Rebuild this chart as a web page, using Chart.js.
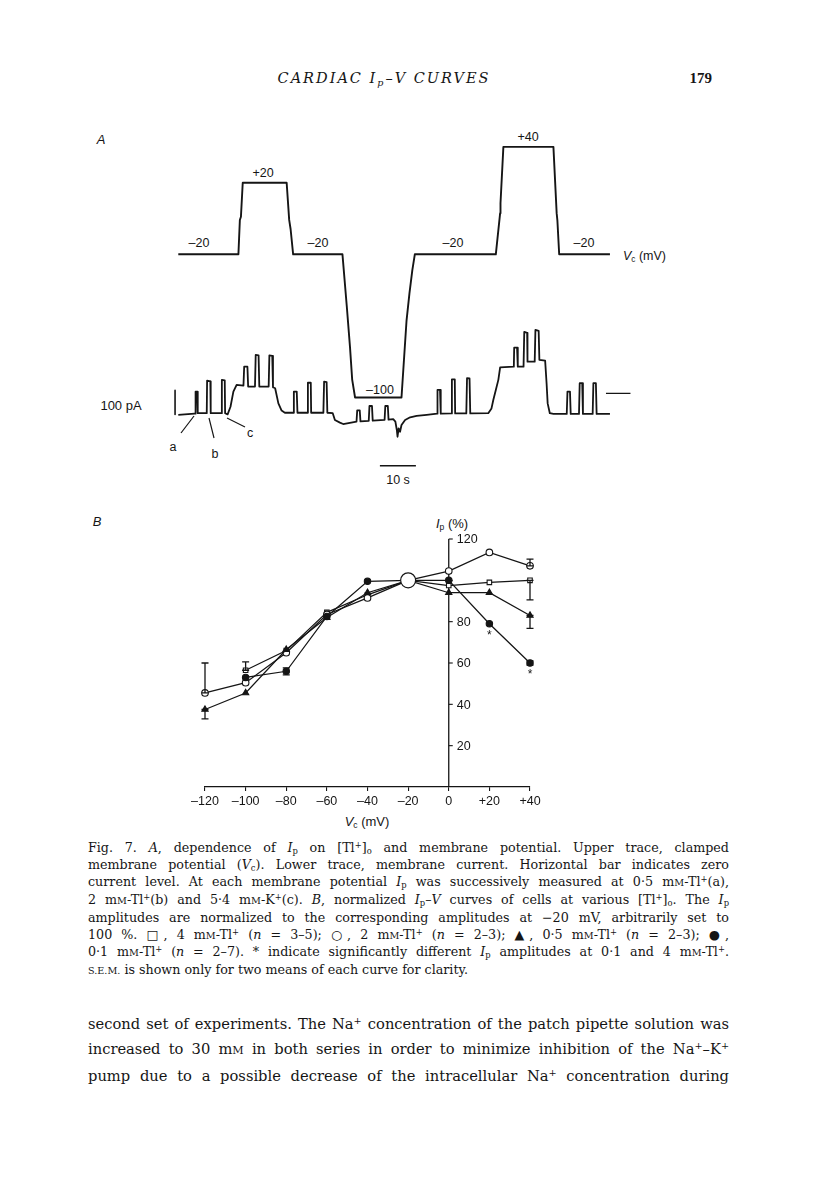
<!DOCTYPE html>
<html><head><meta charset="utf-8">
<script src="https://cdn.jsdelivr.net/npm/chart.js@4.4.1/dist/chart.umd.min.js"></script>
<style>
html,body{margin:0;padding:0;background:#fff;}
body{width:816px;height:1183px;position:relative;overflow:hidden;font-family:"DejaVu Serif","Liberation Serif",serif;color:#151515;}
.abs{position:absolute;white-space:nowrap;line-height:1;}
.sans{font-family:"Liberation Sans",Arial,Helvetica,sans-serif;}
.c{transform:translate(-50%,-50%);}
canvas{position:absolute;}
.sup{font-size:0.66em;vertical-align:0.5em;line-height:0;}
.sub{font-size:0.66em;vertical-align:-0.28em;line-height:0;}
.sc{font-size:0.76em;}
.cap{position:absolute;left:88px;width:641px;font-size:12.7px;line-height:16.9px;}
.cap div,.body div{text-align:justify;text-align-last:justify;white-space:nowrap;}
.cap div.last{text-align-last:left;}
.body{position:absolute;left:88px;width:641px;font-size:14.7px;line-height:25.2px;}
</style>
</head><body>

<!-- header -->
<div class="abs" style="left:384px;top:71px;transform:translateX(-50%);font-size:14.5px;font-style:italic;letter-spacing:2px;">CARDIAC I<span class="sub">p</span>–V CURVES</div>
<div class="abs" style="right:104px;top:71px;font-size:15px;font-weight:bold;font-family:'Liberation Serif',serif;">179</div>

<!-- panel A labels -->
<div class="abs sans c" style="left:101px;top:139px;font-size:13px;font-style:italic;">A</div>
<div class="abs sans c" style="left:199px;top:243px;font-size:12.5px;">–20</div>
<div class="abs sans c" style="left:263px;top:173px;font-size:12.5px;">+20</div>
<div class="abs sans c" style="left:318px;top:243px;font-size:12.5px;">–20</div>
<div class="abs sans c" style="left:380px;top:390px;font-size:12.5px;">–100</div>
<div class="abs sans c" style="left:453px;top:243px;font-size:12.5px;">–20</div>
<div class="abs sans c" style="left:528px;top:137px;font-size:12.5px;">+40</div>
<div class="abs sans c" style="left:584px;top:243px;font-size:12.5px;">–20</div>
<div class="abs sans" style="left:623px;top:250px;font-size:12.5px;"><i>V</i><span class="sub">c</span> (mV)</div>
<div class="abs sans c" style="left:121px;top:405px;font-size:13px;">100 pA</div>
<div class="abs sans c" style="left:173px;top:447px;font-size:12.5px;">a</div>
<div class="abs sans c" style="left:215px;top:454px;font-size:12.5px;">b</div>
<div class="abs sans c" style="left:250px;top:433px;font-size:12.5px;">c</div>
<div class="abs sans c" style="left:398px;top:480px;font-size:12.5px;">10 s</div>
<svg style="position:absolute;left:0;top:0;" width="816" height="600">
  <g stroke="#151515" stroke-width="1.2" fill="none">
    <line x1="194" y1="416" x2="181" y2="433"/>
    <line x1="209" y1="418" x2="214" y2="438"/>
    <line x1="227" y1="418" x2="245" y2="427"/>
  </g>
</svg>

<!-- panel B labels -->
<div class="abs sans c" style="left:97px;top:521px;font-size:13px;font-style:italic;">B</div>
<div class="abs sans c" style="left:452px;top:523px;font-size:13px;"><i>I</i><span class="sub">p</span> (%)</div>
<div class="abs sans c" style="left:367px;top:821px;font-size:13px;"><i>V</i><span class="sub">c</span> (mV)</div>

<canvas id="chartA" width="510" height="360" style="left:150px;top:120px;"></canvas>
<canvas id="chartB" width="405" height="330" style="left:165px;top:505px;"></canvas>

<!-- caption -->
<div class="cap" style="top:840px;">
<div>Fig. 7. <i>A</i>, dependence of <i>I</i><span class="sub">p</span> on [Tl<span class="sup">+</span>]<span class="sub">o</span> and membrane potential. Upper trace, clamped</div>
<div>membrane potential (<i>V</i><span class="sub">c</span>). Lower trace, membrane current. Horizontal bar indicates zero</div>
<div>current level. At each membrane potential <i>I</i><span class="sub">p</span> was successively measured at 0·5 m<span class="sc">M</span>-Tl<span class="sup">+</span>(a),</div>
<div>2 m<span class="sc">M</span>-Tl<span class="sup">+</span>(b) and 5·4 m<span class="sc">M</span>-K<span class="sup">+</span>(c). <i>B</i>, normalized <i>I</i><span class="sub">p</span>–<i>V</i> curves of cells at various [Tl<span class="sup">+</span>]<span class="sub">o</span>. The <i>I</i><span class="sub">p</span></div>
<div>amplitudes are normalized to the corresponding amplitudes at −20 mV, arbitrarily set to</div>
<div>100 %. □, 4 m<span class="sc">M</span>-Tl<span class="sup">+</span> (<i>n</i> = 3–5); ○, 2 m<span class="sc">M</span>-Tl<span class="sup">+</span> (<i>n</i> = 2–3); ▲, 0·5 m<span class="sc">M</span>-Tl<span class="sup">+</span> (<i>n</i> = 2–3); ●,</div>
<div>0·1 m<span class="sc">M</span>-Tl<span class="sup">+</span> (<i>n</i> = 2–7). * indicate significantly different <i>I</i><span class="sub">p</span> amplitudes at 0·1 and 4 m<span class="sc">M</span>-Tl<span class="sup">+</span>.</div>
<div class="last"><span class="sc">S.E.M.</span> is shown only for two means of each curve for clarity.</div>
</div>

<!-- body text -->
<div class="body" style="top:1011px;">
<div>second set of experiments. The Na<span class="sup">+</span> concentration of the patch pipette solution was</div>
<div>increased to 30 m<span class="sc">M</span> in both series in order to minimize inhibition of the Na<span class="sup">+</span>–K<span class="sup">+</span></div>
<div>pump due to a possible decrease of the intracellular Na<span class="sup">+</span> concentration during</div>
</div>

<script>
// ===== Panel A data (time in s, voltage in mV, current in pA) =====
const vcTime  = [0,16.7,17.1,17.4,17.9,30.1,30.8,31.2,31.9,45.6,46.8,47.7,48.3,49.1,62.0,63.4,64.2,65.0,65.7,88.2,89.4,89.5,90.3,104.2,105.1,105.3,105.8,119.9];
const vcValue = [-20,-20,-0.8,1,20,20,-0.8,-6,-20,-20,-49,-72,-90,-100,-100,-57,-42,-29,-20,-20,3,8.5,40,40,3,-1,-20,-20];

const imTime = [0,4.5,4.7,4.8,5.2,5.4,7.9,8.0,8.9,9.0,11.9,12.1,12.9,13.0,13.7,14.5,15.3,16.2,18.1,18.3,19.2,19.4,21.3,21.5,22.3,22.5,25.1,25.3,26.1,26.3,26.9,27.8,28.7,29.6,32.0,32.1,32.9,33.1,35.8,36.0,36.8,36.9,40.3,40.5,41.2,41.4,42.9,43.5,44.9,45.8,49.5,49.7,50.4,50.6,52.9,53.1,53.8,54.0,57.3,57.5,58.2,58.4,59.7,60.3,60.7,60.9,61.2,61.6,62.0,63.0,64.4,66.2,69.0,71.9,72.0,72.7,72.9,75.8,76.0,76.8,76.9,80.0,80.2,80.9,81.1,86.1,87.0,87.5,88.2,88.9,89.4,93.2,93.3,94.1,94.3,95.9,96.1,96.9,97.0,99.0,99.2,100.1,100.3,101.9,102.3,102.6,103.2,104.2,107.9,108.1,108.8,109.0,111.3,111.5,112.2,112.4,115.1,115.3,116.0,116.2,119.9];
const imValue = [-90,-85,-85,7,7,-83,-83,53,50,-83,-83,56,54,-83,-88,-56,7,35,32,111,111,28,28,160,158,28,28,158,156,25,21,-42,-72,-81,-81,7,7,-81,-81,44,44,-81,-81,49,47,-81,-83,-111,-122,-128,-118,-71,-71,-117,-115,-53,-53,-114,-111,-53,-53,-110,-108,-118,-153,-181,-146,-160,-132,-111,-100,-94,-90,-85,14,14,-85,-84,58,58,-84,-84,63,62,-84,-83,-63,-28,14,56,108,111,190,190,111,111,256,252,132,132,264,260,139,136,42,-42,-83,-86,-86,7,7,-86,-86,42,42,-86,-86,42,42,-86,-86];

const zeroBarTime = [118.8,125.6], zeroBarCurrent = [0,0];
const pABarTime = [-0.9,-0.9], pABarCurrent = [12,-88];
const sBarTime = [56,66], sBarCurrent = [-302,-302];

// ===== Panel B data =====
const vcSteps   = [-120,-100,-80,-60,-40,-20,0,20,40];
const tl4mM     = [null,56.5,66,84.5,93,100,97.5,99,100];
const tl2mM     = [45.5,50.5,65,83.5,91.5,100,104.5,113.5,107];
const tl05mM    = [37.5,45.5,66.5,82,94,100,94,94,83];
const tl01mM    = [null,53,56,82.5,99.5,100,100,79,60];
const tl4Sem    = [null,[56.5,60.5],null,null,null,null,null,null,[90.5,100]];
const tl2Sem    = [[45.5,60],null,null,null,null,null,null,null,[107,110.3]];
const tl05Sem   = [[33,37.5],null,null,null,null,null,null,null,[76.8,83]];
const tl01Sem   = [null,null,[54.3,57.6],null,null,null,null,null,[59,61]];
const sigV      = [20,40];
const sigY      = [74,55.5];
const refPoint  = [-20,100];
const xTickValues = [-120,-100,-80,-60,-40,-20,0,20,40];
const xTickLabels = ['–120','–100','–80','–60','–40','–20','0','+20','+40'];
const yTickValues = [20,40,60,80,100,120];
const yTickLabels = ['20','40','60','80','','120'];

const INK = '#151515';
const pts = (xs, ys) => xs.map((x,i)=>({x, y: ys[i]}));

// ---------- Chart A ----------
(function(){
  const canvasLeft=150, canvasTop=120, W=510, H=360;
  const tMin=-5, tMax=130, pxPerS=3.6, t0x=178.3;
  const areaL=t0x+tMin*pxPerS, areaR=t0x+tMax*pxPerS;
  const areaT=129, areaB=470;
  const mv20y=254.3, pxPerMv=1.79;
  const vMax=-20+(mv20y-areaT)/pxPerMv, vMin=-20-(areaB-mv20y)/pxPerMv;
  const zeroY=393.3, pAperPx=100/24;
  const iMax=(zeroY-areaT)*pAperPx, iMin=(zeroY-areaB)*pAperPx;
  const lineDs=(data, axis, w)=>({data, yAxisID:axis, borderColor:INK, borderWidth:w, pointRadius:0, tension:0, fill:false, borderJoinStyle:'round', borderCapStyle:'butt'});
  new Chart(document.getElementById('chartA'),{
    type:'line',
    data:{datasets:[
      lineDs(pts(vcTime,vcValue),'yV',1.9),
      lineDs(pts(imTime,imValue),'yI',1.8),
      lineDs(pts(zeroBarTime,zeroBarCurrent),'yI',1.3),
      lineDs(pts(pABarTime,pABarCurrent),'yI',1.6),
      lineDs(pts(sBarTime,sBarCurrent),'yI',1.6)
    ]},
    options:{
      responsive:false, animation:false, events:[],
      layout:{padding:{left:areaL-canvasLeft, right:canvasLeft+W-areaR, top:areaT-canvasTop, bottom:canvasTop+H-areaB}},
      plugins:{legend:{display:false}, tooltip:{enabled:false}},
      scales:{
        x:{type:'linear', min:tMin, max:tMax, display:false},
        yV:{type:'linear', min:vMin, max:vMax, display:false},
        yI:{type:'linear', min:iMin, max:iMax, display:false}
      }
    }
  });
})();

// ---------- Chart B ----------
(function(){
  const font = {family:'"Liberation Sans", Arial, sans-serif', size:12.5};
  const mk = (label, ys, style, fill, r, sem) => ({
    label, data: pts(vcSteps, ys), sem,
    borderColor:INK, borderWidth:1.25, backgroundColor:fill,
    pointStyle:style, pointRadius:r, pointBorderColor:INK, pointBackgroundColor:fill, pointBorderWidth:1.1,
    tension:0, fill:false, spanGaps:false
  });
  const errorBars = {
    id:'errorBars',
    afterDatasetsDraw(chart){
      const ctx=chart.ctx, xs=chart.scales.x, ys=chart.scales.y;
      ctx.save(); ctx.strokeStyle=INK; ctx.lineWidth=1.3;
      chart.data.datasets.forEach(ds=>{
        if(!ds.sem) return;
        ds.sem.forEach((s,i)=>{
          if(!s) return;
          const px=xs.getPixelForValue(vcSteps[i]);
          const y1=ys.getPixelForValue(s[0]), y2=ys.getPixelForValue(s[1]);
          ctx.beginPath(); ctx.moveTo(px,y1); ctx.lineTo(px,y2);
          ctx.moveTo(px-3.5,y1); ctx.lineTo(px+3.5,y1);
          ctx.moveTo(px-3.5,y2); ctx.lineTo(px+3.5,y2);
          ctx.stroke();
        });
      });
      ctx.fillStyle=INK; ctx.font='12px "Liberation Sans", Arial, sans-serif';
      ctx.textAlign='center'; ctx.textBaseline='middle';
      sigV.forEach((v,i)=>ctx.fillText('*', xs.getPixelForValue(v), ys.getPixelForValue(sigY[i])+2));
      ctx.restore();
    }
  };
  const yAxisAtZero = {
    id:'yAxisAtZero',
    beforeDatasetsDraw(chart){
      const ctx=chart.ctx, xs=chart.scales.x, ys=chart.scales.y;
      const ax=xs.getPixelForValue(0);
      ctx.save(); ctx.strokeStyle=INK; ctx.lineWidth=1.3;
      ctx.beginPath(); ctx.moveTo(ax, ys.getPixelForValue(0)); ctx.lineTo(ax, ys.getPixelForValue(120)); ctx.stroke();
      ctx.lineWidth=1.1;
      ctx.fillStyle=INK; ctx.font='12.5px "Liberation Sans", Arial, sans-serif';
      ctx.textAlign='left'; ctx.textBaseline='middle';
      yTickValues.forEach((v,i)=>{
        const py=ys.getPixelForValue(v);
        ctx.beginPath(); ctx.moveTo(ax,py); ctx.lineTo(ax+4,py); ctx.stroke();
        if(yTickLabels[i]) ctx.fillText(yTickLabels[i], ax+8, py+1);
      });
      ctx.restore();
    }
  };
  const canvasLeft=165, canvasTop=505, W=405, H=330;
  const areaL=205, areaR=530, areaT=539, areaB=787, xAxisH=22;
  new Chart(document.getElementById('chartB'),{
    type:'line',
    data:{datasets:[
      {label:'ref', data:[{x:refPoint[0], y:refPoint[1]}], showLine:false, pointRadius:7.5, pointStyle:'circle', pointBackgroundColor:'#fff', pointBorderColor:INK, pointBorderWidth:1.2},
      mk('0.1 mM', tl01mM, 'circle', INK, 3.2, tl01Sem),
      mk('0.5 mM', tl05mM, 'triangle', INK, 3.6, tl05Sem),
      mk('2 mM', tl2mM, 'circle', '#fff', 3.3, tl2Sem),
      mk('4 mM', tl4mM, 'rect', '#fff', 3.2, tl4Sem)
    ]},
    options:{
      responsive:false, animation:false, events:[],
      clip:false,
      layout:{padding:{left:areaL-canvasLeft, right:canvasLeft+W-areaR, top:areaT-canvasTop, bottom:canvasTop+H-areaB-xAxisH}},
      plugins:{legend:{display:false}, tooltip:{enabled:false}},
      scales:{
        x:{type:'linear', min:-120, max:40,
           afterBuildTicks:s=>{s.ticks=xTickValues.map(v=>({value:v}));},
           afterFit:s=>{s.height=xAxisH;},
           ticks:{font, color:INK, padding:3, maxRotation:0, autoSkip:false,
                  callback:(v)=>xTickLabels[xTickValues.indexOf(v)]},
           grid:{drawOnChartArea:false, drawTicks:true, tickLength:4, color:INK, lineWidth:1.1},
           border:{display:true, color:INK, width:1.3}},
        y:{type:'linear', min:0, max:120, display:false}
      }
    },
    plugins:[yAxisAtZero, errorBars]
  });
})();
</script>
</body></html>
